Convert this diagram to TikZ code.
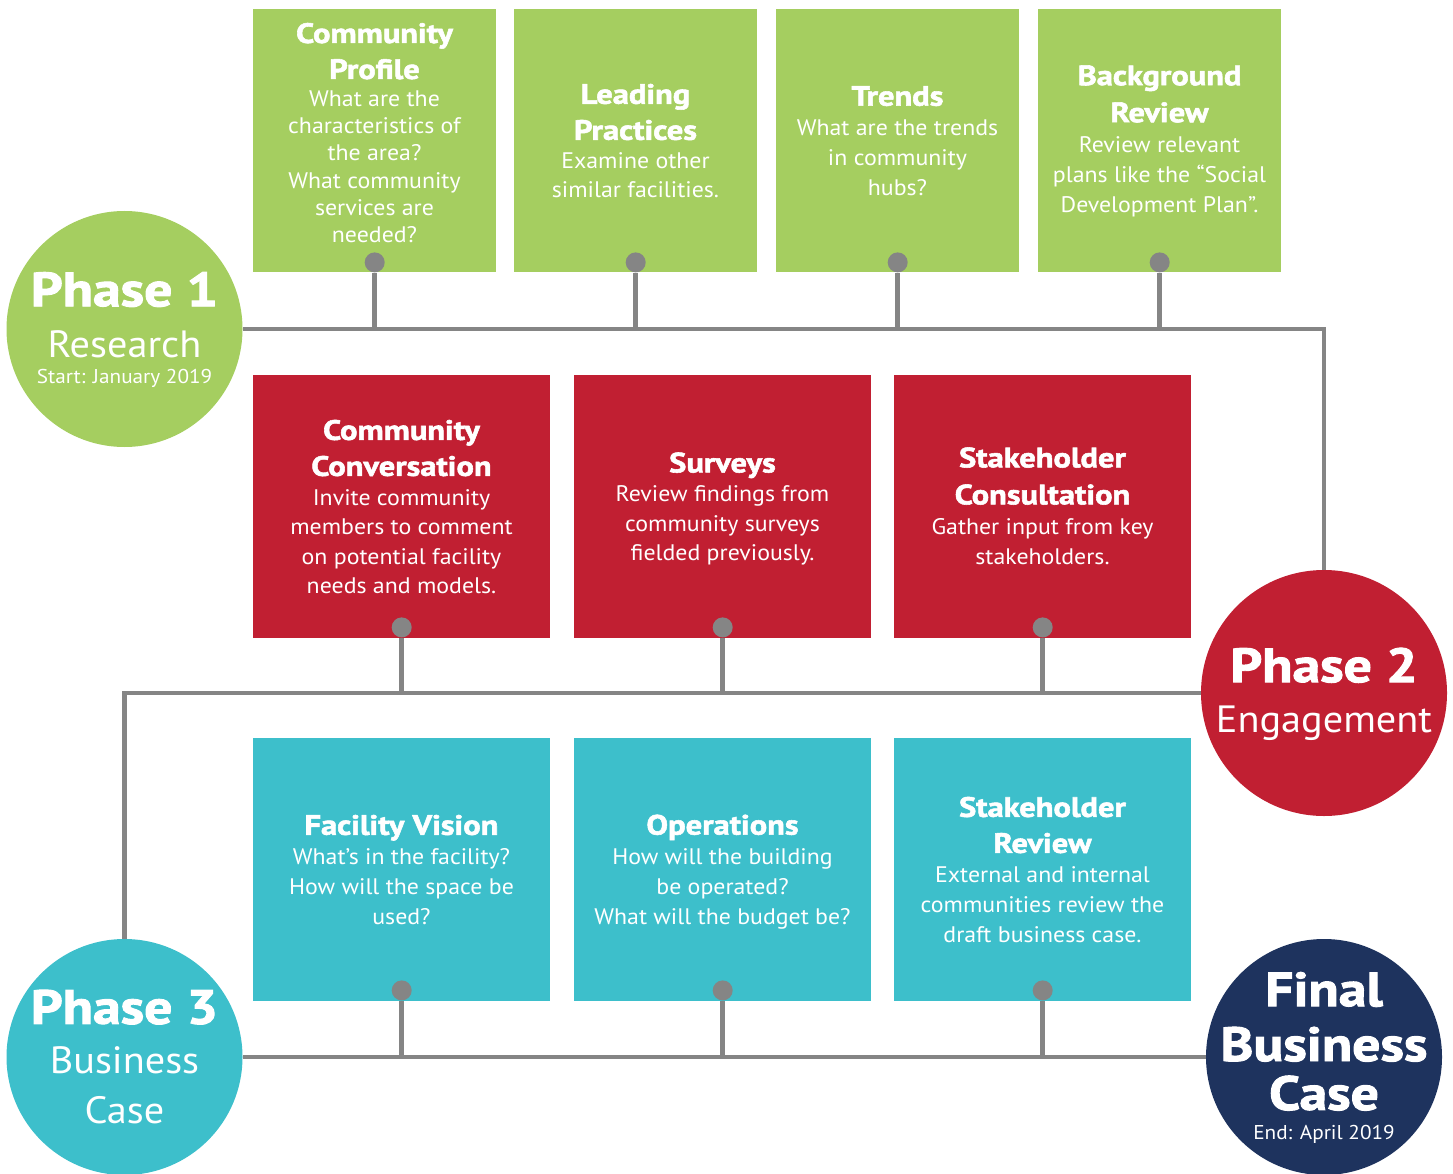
\documentclass[tikz,border=0pt]{standalone}
\usepackage{fontspec}
\setmainfont{PT Sans}[FakeStretch=1.06]
\newfontfamily\heavyfont{PT Sans}[FakeBold=2, FakeStretch=1.16]
\definecolor{pgreen}{HTML}{A5CE60}
\definecolor{pred}{HTML}{C11F32}
\definecolor{pteal}{HTML}{3DBFCB}
\definecolor{pnavy}{HTML}{1E335E}
\definecolor{pgray}{HTML}{858585}
% box headings and phase headings
\newcommand\ttl[1]{{\fontsize{28}{28}\heavyfont\bfseries #1}}
\newcommand\bigttl[1]{{\fontsize{48}{48}\heavyfont\bfseries #1}}
\newcommand\subttl[1]{{\fontsize{38}{38}\selectfont #1}}
\begin{document}
\begin{tikzpicture}[x=1pt,y=-1pt,
  box/.style={anchor=north west, inner sep=0pt, minimum height=263pt},
  gbox/.style={box, fill=pgreen, minimum width=243pt},
  rbox/.style={box, fill=pred, minimum width=297pt},
  tbox/.style={box, fill=pteal, minimum width=297pt},
  knob/.style={circle, fill=pgray, minimum size=20pt, inner sep=0pt},
  phase/.style={circle, inner sep=0pt},
  conn/.style={draw=pgray, line width=4.5pt},
  txt/.style={text=white, align=center, inner sep=0pt},
  body/.style={font=\fontsize{22.5}{#1}\selectfont}
]
\useasboundingbox (0,0) rectangle (1453,1174);

% phase circles
\node[phase, fill=pgreen, minimum size=236pt] (p1) at (124.5,329) {};
\node[phase, fill=pred,   minimum size=246pt] (p2) at (1324,693) {};
\node[phase, fill=pteal,  minimum size=236pt] (p3) at (124.5,1057) {};
\node[phase, fill=pnavy,  minimum size=236pt] (p4) at (1324,1057) {};

% research boxes
\node[gbox] (g1) at (253,9) {};
\node[gbox] (g2) at (514,9) {};
\node[gbox] (g3) at (776,9) {};
\node[gbox] (g4) at (1038,9) {};
% engagement boxes
\node[rbox] (r1) at (253,375) {};
\node[rbox] (r2) at (574,375) {};
\node[rbox] (r3) at (894,375) {};
% business case boxes
\node[tbox] (t1) at (253,738) {};
\node[tbox] (t2) at (574,738) {};
\node[tbox] (t3) at (894,738) {};

% knobs at the foot of each box
\foreach \b in {g1,g2,g3,g4}
  \node[knob] (k\b) at ([yshift=10pt]\b.south) {};
\foreach \b in {r1,r2,r3,t1,t2,t3}
  \node[knob] (k\b) at ([yshift=11pt]\b.south) {};

% timeline connectors
\draw[conn] (p1.east) -| (p2.north);
\draw[conn] (p2.west) -| (p3.north);
\draw[conn] (p3.east) -- (p4.west);
\foreach \b in {g1,g2,g3,g4}
  \draw[conn] (k\b.south) -- (k\b |- p1.center);
\foreach \b in {r1,r2,r3}
  \draw[conn] (k\b.south) -- (k\b |- p2.center);
\foreach \b in {t1,t2,t3}
  \draw[conn] (k\b.south) -- (k\b |- p3.center);

% phase labels
\node[txt, font=\fontsize{20}{26}\selectfont] (p1t) at (124.5,330)
  {\bigttl{Phase 1}\\[23pt]\subttl{Research}\\Start: January 2019};
\node[txt, font=\fontsize{38}{50}\selectfont] (p2t) at (1324,694)
  {\bigttl{Phase 2}\\Engagement};
\node[txt, font=\fontsize{38}{50}\selectfont] (p3t) at (124.5,1057)
  {\bigttl{Phase 3}\\Business\\Case};
\node[txt, font=\fontsize{20}{30}\selectfont] (p4t) at (1324,1058)
  {\bigttl{Final}\\[19pt]\bigttl{Business}\\[13pt]\bigttl{Case}\\End: April 2019};

% research texts
\node[txt, body=27.3] (g1t) at (374.5,133)
  {\ttl{Community}\\[8.7pt]\ttl{Profile}\\What are the\\characteristics of\\the area?\\What community\\services are\\needed?};
\node[txt, body=29] (g2t) at (635.5,141)
  {\ttl{Leading}\\[7pt]\ttl{Practices}\\Examine other\\similar facilities.};
\node[txt, body=30] (g3t) at (897.5,141)
  {\ttl{Trends}\\What are the trends\\in community\\hubs?};
\node[txt, body=30] (g4t) at (1159.5,141)
  {\ttl{Background}\\[7pt]\ttl{Review}\\Review relevant\\plans like the “Social\\Development Plan”.};

% engagement texts
\node[txt, body=29.5] (r1t) at (401.5,507)
  {\ttl{Community}\\[6.5pt]\ttl{Conversation}\\Invite community\\members to comment\\on potential facility\\needs and models.};
\node[txt, body=29.5] (r2t) at (722.5,509)
  {\ttl{Surveys}\\Review findings from\\community surveys\\fielded previously.};
\node[txt, body=30] (r3t) at (1042.5,506)
  {\ttl{Stakeholder}\\[7pt]\ttl{Consultation}\\Gather input from key\\stakeholders.};

% business case texts
\node[txt, body=30] (t1t) at (401.5,870)
  {\ttl{Facility Vision}\\What’s in the facility?\\How will the space be\\used?};
\node[txt, body=30] (t2t) at (722.5,872)
  {\ttl{Operations}\\How will the building\\be operated?\\What will the budget be?};
\node[txt, body=30] (t3t) at (1042.5,870)
  {\ttl{Stakeholder}\\[6pt]\ttl{Review}\\External and internal\\communities review the\\draft business case.};
\end{tikzpicture}
\end{document}
